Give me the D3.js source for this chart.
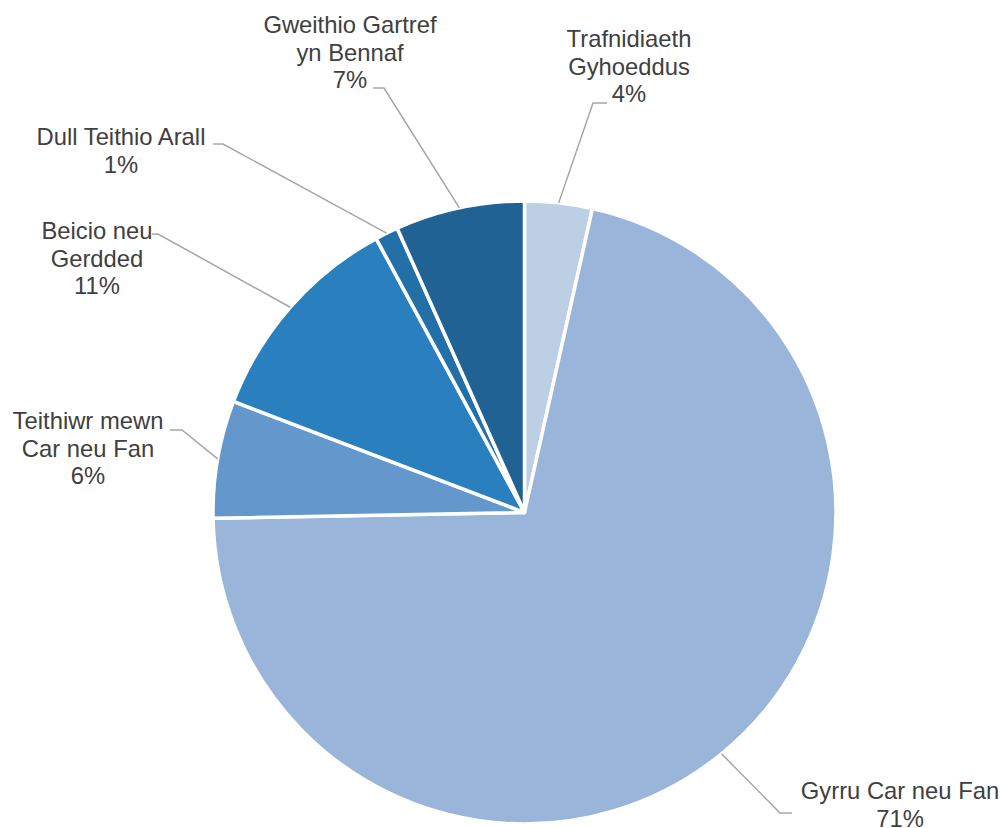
<!DOCTYPE html>
<html>
<head>
<meta charset="utf-8">
<script src="https://cdn.jsdelivr.net/npm/d3@7"></script>
<style>
  body { margin: 0; background: #fff; }
  text { font-family: "Liberation Sans", Arial, sans-serif; }
</style>
</head>
<body>
<div id="chart"></div>
<script>
// Data
const categories = [
  ['Trafnidiaeth', 'Gyhoeddus'],
  ['Gyrru Car neu Fan'],
  ['Teithiwr mewn', 'Car neu Fan'],
  ['Beicio neu', 'Gerdded'],
  ['Dull Teithio Arall'],
  ['Gweithio Gartref', 'yn Bennaf']
]
const values = [3.5, 71.2, 6.1, 11.3, 1.2, 6.7]
const percentLabels = ['4%', '71%', '6%', '11%', '1%', '7%']
const colors = ['#bdcfe5', '#9ab5da', '#6497cc', '#2a80be', '#2370a8', '#1f6293']

// label layout: elbow point, line end, text centre x, first baseline
const labelLayout = [
  { elbow: [593, 103], end: [607, 103], tx: 629, ty: 47 },
  { elbow: [780, 813], end: [792, 813], tx: 900, ty: 799 },
  { elbow: [182, 430], end: [170, 430], tx: 88, ty: 429 },
  { elbow: [158, 234], end: [152, 234], tx: 97, ty: 239 },
  { elbow: [223, 144], end: [213, 144], tx: 121, ty: 145 },
  { elbow: [384, 88], end: [373, 88], tx: 350, ty: 33 }
]

const dimensions = { width: 1003, height: 828, cx: 524.5, cy: 512.5, radius: 311.5 }
const lineHeight = 27.5

const svg = d3.select('#chart')
  .append('svg')
  .attr('width', dimensions.width)
  .attr('height', dimensions.height)

const data = values.map((v, i) => ({ value: v, i }))

const pie = d3.pie()
  .value(d => d.value)
  .sort(null)

const arcs = pie(data)

const arc = d3.arc()
  .innerRadius(0)
  .outerRadius(dimensions.radius)

const ctr = svg.append('g')
  .attr('transform', `translate(${dimensions.cx}, ${dimensions.cy})`)

ctr.selectAll('path.slice')
  .data(arcs)
  .join('path')
  .attr('class', 'slice')
  .attr('d', arc)
  .attr('fill', d => colors[d.data.i])
  .attr('stroke', '#fff')
  .attr('stroke-width', 3.5)
  .attr('stroke-linejoin', 'round')

// leader lines
const edgePoint = d => {
  const a = (d.startAngle + d.endAngle) / 2
  return [dimensions.cx + dimensions.radius * Math.sin(a), dimensions.cy - dimensions.radius * Math.cos(a)]
}

svg.selectAll('polyline.leader')
  .data(arcs)
  .join('polyline')
  .attr('class', 'leader')
  .attr('points', d => {
    const l = labelLayout[d.data.i]
    return [edgePoint(d), l.elbow, l.end].map(p => p.join(',')).join(' ')
  })
  .attr('fill', 'none')
  .attr('stroke', '#a6a6a6')
  .attr('stroke-width', 1.5)

// labels
const labels = svg.selectAll('text.label')
  .data(arcs)
  .join('text')
  .attr('class', 'label')
  .attr('text-anchor', 'middle')
  .attr('fill', '#404040')
  .style('font-size', '23.8px')

labels.each(function(d) {
  const l = labelLayout[d.data.i]
  const lines = categories[d.data.i].concat([percentLabels[d.data.i]])
  d3.select(this).selectAll('tspan')
    .data(lines)
    .join('tspan')
    .attr('x', l.tx)
    .attr('y', (t, k) => l.ty + k * lineHeight)
    .text(t => t)
})
</script>
</body>
</html>
